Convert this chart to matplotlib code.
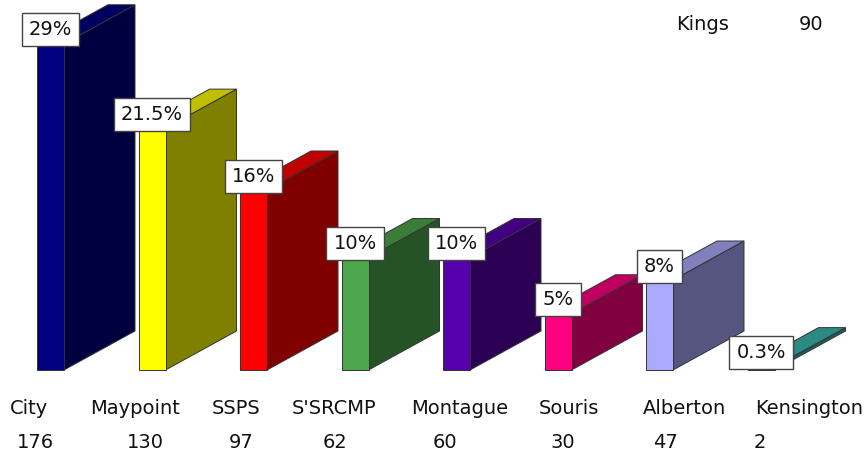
# plot

from matplotlib import pyplot as plt
from matplotlib.colors import to_rgb

places = ["City", "Maypoint", "SSPS", "S'SRCMP", "Montague", "Souris", "Alberton", "Kensington"]
counts = [176, 130, 97, 62, 60, 30, 47, 2]
percents = [29, 21.5, 16, 10, 10, 5, 8, 0.3]
colors = ["#000080", "#ffff00", "#ff0000", "#4ca64c", "#5500aa", "#ff0080", "#aaaaff", "#3cb8ae"]

W, H = 867, 458
step = 101.5        # px between bars
unit = 11.25        # px per percent
base = 370          # px of the zero line
width = 27 / step
dx = 71 / step
dy = 39 / unit

# where the texts sit, in px
name_x = [29, 135, 236, 334, 460, 569, 684, 809]
count_x = [35, 145, 241, 335, 445, 563, 665, 760]

def shade(c, f):
    return tuple(v * f for v in to_rgb(c))

fig = plt.figure(figsize=(W / 100, H / 100), dpi=100)
ax = fig.add_axes([0, 0, 1, 1])
ax.set_xlim(-50.5 / step, (W - 50.5) / step)
ax.set_ylim(-(H - base) / unit, base / unit)
ax.axis("off")

edge = "#333333"
for i, v in enumerate(percents):
    c = colors[i]
    l = i - width / 2
    r = i + width / 2
    ax.fill([r, r + dx, r + dx, r], [0, dy, v + dy, v], fc=shade(c, 0.5), ec=edge, lw=0.7, zorder=2 + i)
    ax.fill([l, l + dx, r + dx, r], [v, v + dy, v + dy, v], fc=shade(c, 0.75), ec=edge, lw=0.7, zorder=2 + i)
    ax.bar(i, v, width=width, color=c, edgecolor=edge, lw=0.7, zorder=2 + i)
    ax.annotate("%g%%" % v, (i, v), xytext=(0, 10), textcoords="offset points",
                ha="center", va="center", fontsize=14, color="#111111", zorder=20,
                bbox=dict(boxstyle="square,pad=0.36", fc="white", ec="#444444", lw=1))

def px_text(x, y, s):
    fig.text(x / W, 1 - y / H, s, ha="center", va="center", fontsize=14, color="#111111")

for i in range(len(places)):
    px_text(name_x[i], 408, places[i])
    px_text(count_x[i], 443, str(counts[i]))

px_text(703, 25, "Kings")
px_text(811, 25, "90")

fig.savefig("out.png", dpi=100)
